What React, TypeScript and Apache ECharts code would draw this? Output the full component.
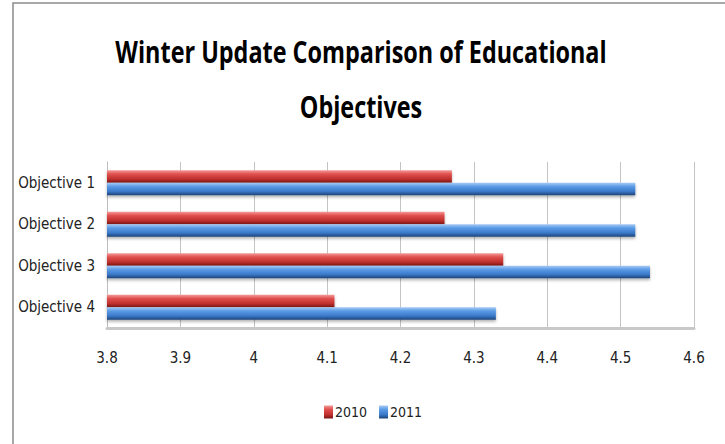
import React, { useEffect, useRef } from "react";
import * as echarts from "echarts";

const categories = ["Objective 1", "Objective 2", "Objective 3", "Objective 4"];
const values2010 = [4.27, 4.26, 4.34, 4.11];
const values2011 = [4.52, 4.52, 4.54, 4.33];
const seriesNames = ["2010", "2011"];
const titleLines = ["Winter Update Comparison of Educational", "Objectives"];

const FONT = "'DejaVu Sans Condensed', 'Open Sans', sans-serif";
const TFONT = "'Open Sans', sans-serif";

const redGrad = new echarts.graphic.LinearGradient(0, 0, 0, 1, [
  { offset: 0, color: "#f39a98" },
  { offset: 0.3, color: "#e0504e" },
  { offset: 0.7, color: "#c0302e" },
  { offset: 1, color: "#7a1614" },
]);
const blueGrad = new echarts.graphic.LinearGradient(0, 0, 0, 1, [
  { offset: 0, color: "#a6cbf5" },
  { offset: 0.3, color: "#5b9be6" },
  { offset: 0.7, color: "#3a78c8" },
  { offset: 1, color: "#1c4478" },
]);

export default function App() {
  const ref = useRef<HTMLDivElement>(null);
  useEffect(() => {
    if (!ref.current) return;
    const chart = echarts.init(ref.current, undefined, { renderer: "svg" });
    chart.setOption({
      animation: false,
      backgroundColor: "#ffffff",
      graphic: [
        {
          type: "rect",
          shape: { x: 13, y: 3, width: 800, height: 500 },
          style: { fill: "none", stroke: "#8c8c8c", lineWidth: 1.5 },
          silent: true,
        },
        ...titleLines.map((t, i) => ({
          type: "text",
          x: 361,
          y: 51 + i * 55,
          scaleX: 0.78,
          style: {
            text: t,
            fontFamily: TFONT,
            fontSize: 30,
            fontWeight: "bold",
            fill: "#000000",
            textAlign: "center",
            textVerticalAlign: "middle",
          },
          silent: true,
        })),
      ],
      legend: {
        bottom: 20,
        left: 319,
        itemWidth: 9,
        itemHeight: 13,
        itemGap: 12,
        icon: "rect",
        textStyle: { fontFamily: FONT, fontSize: 14, color: "#222", padding: [0, 0, 0, -3] },
        data: seriesNames,
      },
      grid: { left: 107, right: 31, top: 162, bottom: 116 },
      xAxis: {
        type: "value",
        min: 3.8,
        max: 4.6,
        interval: 0.1,
        axisLine: { show: true, lineStyle: { color: "#c8c8c8", width: 3 } },
        axisTick: { show: false },
        axisLabel: {
          fontFamily: FONT,
          fontSize: 15,
          color: "#222",
          margin: 22,
          formatter: (v: number) => String(Math.round(v * 10) / 10),
        },
        splitLine: { show: true, lineStyle: { color: "#c4c4c4", width: 1 } },
      },
      yAxis: {
        type: "category",
        data: categories,
        inverse: true,
        axisLine: { show: true, lineStyle: { color: "#bdbdbd", width: 1 } },
        axisTick: { show: false },
        axisLabel: { fontFamily: FONT, fontSize: 15, color: "#222", margin: 12 },
      },
      series: [
        {
          name: seriesNames[0],
          type: "bar",
          data: values2010,
          barGap: "0%",
          barCategoryGap: "40%",
          itemStyle: {
            color: redGrad,
            shadowColor: "rgba(0,0,0,0.3)",
            shadowBlur: 3,
            shadowOffsetY: 2,
          },
        },
        {
          name: seriesNames[1],
          type: "bar",
          data: values2011,
          barGap: "0%",
          barCategoryGap: "40%",
          itemStyle: {
            color: blueGrad,
            shadowColor: "rgba(0,0,0,0.3)",
            shadowBlur: 3,
            shadowOffsetY: 2,
          },
        },
      ],
    });
    return () => chart.dispose();
  }, []);
  return (
    <div
      ref={ref}
      style={{ position: "fixed", left: 0, top: 0, width: 725, height: 444 }}
    />
  );
}
